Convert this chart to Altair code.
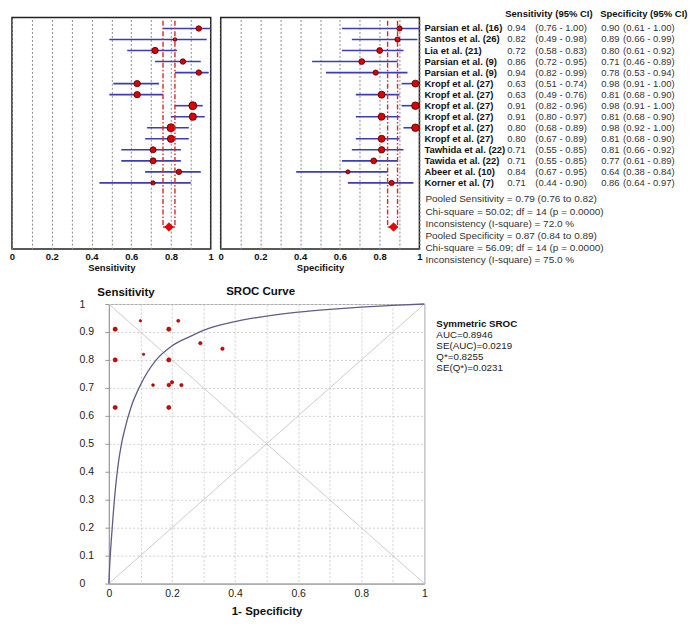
import altair as alt
import pandas as pd

# ---------------- data ----------------
studies = ["Parsian et al. (16)", "Santos et al. (26)", "Lia et al. (21)", "Parsian et al. (9)",
           "Parsian et al. (9)", "Kropf et al. (27)", "Kropf et al. (27)", "Kropf et al. (27)",
           "Kropf et al. (27)", "Kropf et al. (27)", "Kropf et al. (27)", "Tawhida et al. (22)",
           "Tawida et al. (22)", "Abeer et al. (10)", "Korner et al. (7)"]
sens = [0.94, 0.82, 0.72, 0.86, 0.94, 0.63, 0.63, 0.91, 0.91, 0.80, 0.80, 0.71, 0.71, 0.84, 0.71]
sens_lo = [0.76, 0.49, 0.58, 0.72, 0.82, 0.51, 0.49, 0.82, 0.80, 0.68, 0.67, 0.55, 0.55, 0.67, 0.44]
sens_hi = [1.00, 0.98, 0.83, 0.95, 0.99, 0.74, 0.76, 0.96, 0.97, 0.89, 0.89, 0.85, 0.85, 0.95, 0.90]
spec = [0.90, 0.89, 0.80, 0.71, 0.78, 0.98, 0.81, 0.98, 0.81, 0.98, 0.81, 0.81, 0.77, 0.64, 0.86]
spec_lo = [0.61, 0.66, 0.61, 0.46, 0.53, 0.91, 0.68, 0.91, 0.68, 0.92, 0.68, 0.66, 0.61, 0.38, 0.64]
spec_hi = [1.00, 0.99, 0.92, 0.89, 0.94, 1.00, 0.90, 1.00, 0.90, 1.00, 0.90, 0.92, 0.89, 0.84, 0.97]
# study weights (%) shown by symbol size
sens_weight = [5.2, 2.3, 7.0, 5.2, 5.2, 7.0, 7.0, 10.9, 9.2, 10.9, 9.2, 6.4, 6.4, 5.2, 3.1]
spec_weight = [4.7, 4.7, 5.9, 5.9, 4.7, 8.4, 8.4, 10.0, 8.4, 10.0, 8.4, 7.0, 5.9, 2.9, 4.7]
sroc_weight = [1.0, 1.0, 2.0, 2.0, 1.7, 3.0, 3.0, 3.0, 3.0, 3.0, 3.0, 2.3, 2.0, 2.0, 1.4]

pooled_sens = [0.79, 0.76, 0.82]   # estimate, lower, upper
pooled_spec = [0.87, 0.84, 0.89]
sens_stats = ["Pooled Sensitivity = 0.79 (0.76 to 0.82)",
              "Chi-square = 50.02; df =  14 (p = 0.0000)",
              "Inconsistency (I-square) = 72.0 %"]
spec_stats = ["Pooled Specificity = 0.87 (0.84 to 0.89)",
              "Chi-square = 56.09; df =  14 (p = 0.0000)",
              "Inconsistency (I-square) = 75.0 %"]
table_headers = ["Sensitivity (95% CI)", "Specificity (95% CI)"]
axis_ticks = [0, 0.1, 0.2, 0.3, 0.4, 0.5, 0.6, 0.7, 0.8, 0.9, 1]

sroc_heading = "SROC Curve"
sroc_title = "Symmetric SROC"
sroc_stats = ["AUC=0.8946", "SE(AUC)=0.0219", "Q*=0.8255", "SE(Q*)=0.0231"]
curve_fpr = [0, 0.0025, 0.005, 0.01, 0.02, 0.03, 0.04, 0.05, 0.07, 0.1, 0.15, 0.2, 0.25,
             0.3, 0.4, 0.5, 0.6, 0.7, 0.8, 0.9, 1.0]
curve_tpr = [0, 0.06, 0.11, 0.19, 0.33, 0.43, 0.50, 0.55, 0.63, 0.71, 0.80, 0.85, 0.88,
             0.906, 0.937, 0.957, 0.971, 0.981, 0.989, 0.995, 1.0]

# ---------------- layout / style ----------------
FONT = "Liberation Sans"
W, H = 199, 232
NROW = 21
ROW_DIAMOND = len(studies) + 4
ROW_TOP = 0.3
RED = "#DD0000"
BLUE = "#3c3cb4"
yscale = alt.Scale(domain=[0, NROW], reverse=True, nice=False, zero=False)
odd_hide = "round(datum.value*10) % 2 == 0 ? datum.label : ''"

df = pd.DataFrame({
    "study": studies, "row": list(range(1, len(studies) + 1)),
    "sens": sens, "sens_lo": sens_lo, "sens_hi": sens_hi,
    "spec": spec, "spec_lo": spec_lo, "spec_hi": spec_hi,
    "sens_w": sens_weight, "spec_w": spec_weight,
})
df["sens_txt"] = [f"{v:.2f}" for v in sens]
df["sens_ci"] = [f"({a:.2f} - {b:.2f})" for a, b in zip(sens_lo, sens_hi)]
df["spec_txt"] = [f"{v:.2f}" for v in spec]
df["spec_ci"] = [f"({a:.2f} - {b:.2f})" for a, b in zip(spec_lo, spec_hi)]


def forest(key, pooled, title):
    xaxis = alt.Axis(values=axis_ticks, format="~g", labelExpr=odd_hide, labelFlush=False,
                     grid=True, gridColor="#8a8a8a", gridDash=[2, 2], gridWidth=1,
                     ticks=False, domain=False, labelFontSize=9.5, labelFontWeight="bold",
                     labelColor="#111", labelPadding=2, title=title, titleFontSize=9.5,
                     titleFontWeight="bold", titleColor="#111", titlePadding=1.5)
    xs = alt.Scale(domain=[0, 1], nice=False, zero=False)

    def X(f):
        return alt.X(f, type="quantitative", scale=xs, axis=xaxis)

    def Y(f):
        return alt.Y(f, type="quantitative", scale=yscale, axis=None)

    base = alt.Chart(df)
    ci = base.mark_rule(color=BLUE, strokeWidth=1.6).encode(
        x=X(f"{key}_lo"), x2=alt.X2(f"{key}_hi"), y=Y("row"))
    pts = base.mark_point(shape="circle", filled=True, fill=RED, stroke="#4a0000",
                          strokeWidth=0.8, opacity=1).encode(
        x=X(key), y=Y("row"),
        size=alt.Size(f"{key}_w:Q", scale=alt.Scale(domain=[0, 11], range=[0, 64]), legend=None))
    vl = pd.DataFrame({"x": [pooled[1], pooled[2]], "y1": [ROW_TOP] * 2, "y2": [ROW_DIAMOND] * 2})
    vlines = alt.Chart(vl).mark_rule(color="#d42a2a", strokeWidth=1.4,
                                     strokeDash=[5, 2, 1.5, 2]).encode(
        x=X("x"), y=Y("y1"), y2=alt.Y2("y2"))
    hl = pd.DataFrame({"lo": [pooled[1]], "hi": [pooled[2]], "y": [ROW_DIAMOND]})
    hline = alt.Chart(hl).mark_rule(color="#d42a2a", strokeWidth=1.4).encode(
        x=X("lo"), x2=alt.X2("hi"), y=Y("y"))
    dm = pd.DataFrame({"est": [pooled[0]], "y": [ROW_DIAMOND]})
    diamond = alt.Chart(dm).mark_point(shape="diamond", filled=True, fill="#ee0000",
                                       stroke="#900000", strokeWidth=0.6, size=75,
                                       opacity=1).encode(x=X("est"), y=Y("y"))
    return [ci, pts, vlines, hline, diamond], Y


sens_layers, _ = forest("sens", pooled_sens, "Sensitivity")
spec_layers, Yf = forest("spec", pooled_spec, "Specificity")

view_black = alt.ViewBackground(stroke="#222", strokeWidth=1.5)

# table text (to the right of the specificity panel)
TXT = dict(baseline="middle", align="left", fontSize=9.5)
tbl = alt.Chart(df)
table_layers = [
    tbl.mark_text(fontWeight="bold", color="#111", **TXT).encode(
        x=alt.value(W + 5), y=Yf("row"), text="study:N"),
    tbl.mark_text(color="#333", **TXT).encode(x=alt.value(W + 88), y=Yf("row"), text="sens_txt:N"),
    tbl.mark_text(color="#333", **TXT).encode(x=alt.value(W + 116), y=Yf("row"), text="sens_ci:N"),
    tbl.mark_text(color="#333", **TXT).encode(x=alt.value(W + 182), y=Yf("row"), text="spec_txt:N"),
    tbl.mark_text(color="#333", **TXT).encode(x=alt.value(W + 204), y=Yf("row"), text="spec_ci:N"),
    alt.Chart(pd.DataFrame({"t": [table_headers[0]]})).mark_text(
        fontWeight="bold", color="#111", **TXT).encode(x=alt.value(W + 86), y=alt.value(-3), text="t:N"),
    alt.Chart(pd.DataFrame({"t": [table_headers[1]]})).mark_text(
        fontWeight="bold", color="#111", **TXT).encode(x=alt.value(W + 181), y=alt.value(-3), text="t:N"),
]
stats_df = pd.DataFrame({
    "t": sens_stats + spec_stats,
    "row": [16.5 + 1.1 * i for i in range(3)] + [19.8 + 1.1 * i for i in range(3)],
})
table_layers.append(
    alt.Chart(stats_df).mark_text(baseline="middle", align="left", fontSize=10, color="#333").encode(
        x=alt.value(W + 6), y=Yf("row"), text="t:N"))

sens_chart = alt.layer(*sens_layers).properties(width=W, height=H, view=view_black)
spec_chart = alt.layer(*spec_layers, *table_layers).properties(width=W, height=H, view=view_black)

# ---------------- SROC ----------------
WS, HS = 316, 280
sroc_df = pd.DataFrame({"fpr": [round(1 - s, 2) for s in spec], "sens": sens, "w": sroc_weight})
curve_df = pd.DataFrame({"fpr": curve_fpr, "sens": curve_tpr})
diag_df = pd.DataFrame({"fpr": [0, 1, 0, 1], "sens": [0, 1, 1, 0], "d": ["a", "a", "b", "b"]})

sx = alt.Scale(domain=[0, 1], nice=False, zero=False)
sy = alt.Scale(domain=[0, 1], nice=False, zero=False)
GRID = "#cfcfcf"
sx_axis = alt.Axis(values=axis_ticks, format="~g", labelExpr=odd_hide, labelFlush=False,
                   grid=True, gridColor=GRID, gridDash=[2, 2], ticks=False, domainColor="#999",
                   labelFontSize=10.5, labelColor="#222", labelPadding=5,
                   title="1- Specificity", titleFontSize=11.5, titleFontWeight="bold",
                   titleColor="#111", titlePadding=6)
sy_axis = alt.Axis(values=axis_ticks, format="~g", grid=True, gridColor=GRID, gridDash=[2, 2],
                   ticks=True, tickSize=4, tickColor="#999", domainColor="#999",
                   labelAlign="left", labelBaseline="middle", labelPadding=26,
                   labelFontSize=10.5, labelColor="#222",
                   title="Sensitivity", titleAngle=0, titleX=-12, titleY=-12, titleAlign="left",
                   titleBaseline="middle", titleFontSize=11.5, titleFontWeight="bold",
                   titleColor="#111")


def SX(f):
    return alt.X(f, type="quantitative", scale=sx, axis=sx_axis)


def SY(f):
    return alt.Y(f, type="quantitative", scale=sy, axis=sy_axis)


diag = alt.Chart(diag_df).mark_line(color="#cccccc", strokeWidth=1).encode(
    x=SX("fpr"), y=SY("sens"), detail="d:N")
curve = alt.Chart(curve_df).mark_line(color="#5e5e88", strokeWidth=1.3,
                                      interpolate="monotone").encode(x=SX("fpr"), y=SY("sens"))
spts = alt.Chart(sroc_df).mark_point(shape="circle", filled=True, fill=RED, stroke="#7a0000",
                                     strokeWidth=0.6, opacity=1).encode(
    x=SX("fpr"), y=SY("sens"),
    size=alt.Size("w:Q", scale=alt.Scale(domain=[0, 3], range=[0, 30]), legend=None))
heading = alt.Chart(pd.DataFrame({"t": [sroc_heading]})).mark_text(
    align="center", baseline="middle", fontSize=11.5, fontWeight="bold", color="#111").encode(
    x=alt.value(WS / 2 - 6), y=alt.value(-12), text="t:N")
st_title = alt.Chart(pd.DataFrame({"t": [sroc_title]})).mark_text(
    align="left", baseline="middle", fontSize=9.8, fontWeight="bold", color="#111").encode(
    x=alt.value(WS + 12), y=alt.value(20), text="t:N")
st_lines = alt.Chart(pd.DataFrame({"t": ["\n".join(sroc_stats)]})).mark_text(
    align="left", baseline="top", fontSize=9.8, color="#222", lineBreak="\n", lineHeight=11).encode(
    x=alt.value(WS + 12), y=alt.value(26), text="t:N")

sroc = alt.layer(diag, curve, spts, heading, st_title, st_lines).properties(
    width=WS, height=HS, view=alt.ViewBackground(stroke="#aaaaaa", strokeWidth=1))

spacer = alt.Chart(pd.DataFrame({"t": [""]})).mark_text().encode(text="t:N").properties(
    width=97, height=10, view=alt.ViewBackground(stroke="transparent"))

top = alt.hconcat(sens_chart, spec_chart, spacing=10, bounds="flush")
bottom = alt.hconcat(spacer, sroc, spacing=0, bounds="flush")
chart = alt.vconcat(top, bottom, spacing=12, bounds="full").properties(padding=0).configure(
    font=FONT)

chart.save("out.html", embed_options={"renderer": "svg", "actions": False})
